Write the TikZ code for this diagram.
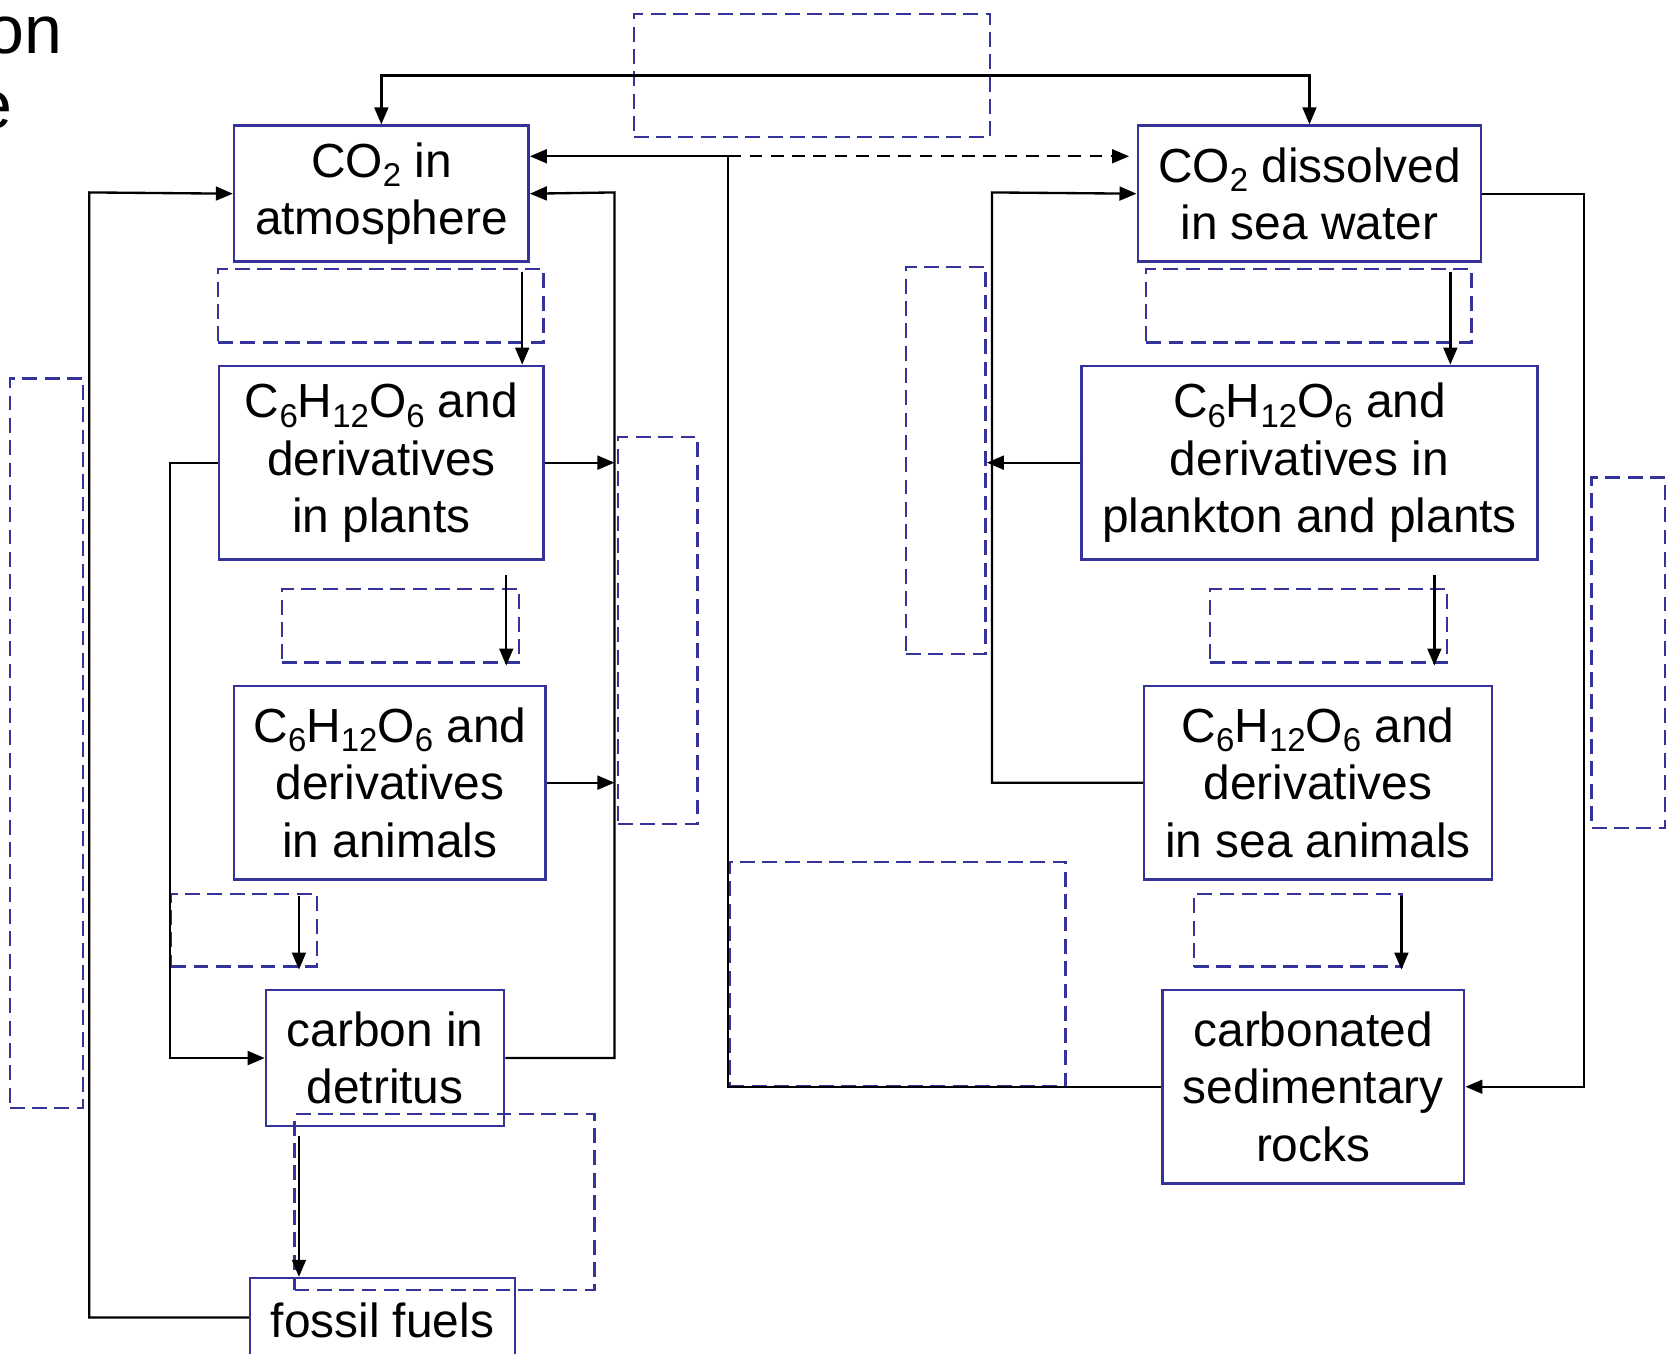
\documentclass[tikz,border=0pt]{standalone}
\usepackage{fontspec}
\setmainfont{Liberation Sans}
\usetikzlibrary{arrows.meta,calc}
\definecolor{boxblue}{RGB}{51,51,153}
\newcommand\sbs[1]{\raisebox{-9pt}{\fontsize{31pt}{31pt}\selectfont #1}}
\begin{document}
\begin{tikzpicture}[x=1pt,y=-1pt,
  box/.style={draw=boxblue,line width=2.4pt,inner sep=0pt,align=center,anchor=north west,
    font=\fontsize{45pt}{54pt}\selectfont,execute at begin node={\rule{0pt}{39pt}}},
  ph/.style={draw=boxblue,dash pattern=on 14pt off 7pt,line width=2.2pt,inner sep=0pt,anchor=north west},
  conn/.style={line width=2.2pt,-{Triangle[length=16pt,width=13pt]}},
  both/.style={line width=2.2pt,{Triangle[length=16pt,width=13pt]}-{Triangle[length=16pt,width=13pt]}},
  ttl/.style={anchor=base east,inner sep=0pt,font=\fontsize{64pt}{70pt}\selectfont}]
\useasboundingbox (0,0) rectangle (1568,1273);

% title fragments
\node[ttl] (t1) at (59,50) {on};
\node[ttl] (t2) at (12,121) {e};

% placeholders (empty dashed boxes)
\node[ph,minimum width=335pt,minimum height=116pt] (pa) at (595,12) {};
\node[ph,minimum width=306pt,minimum height=69pt] (pb) at (204,252) {};
\node[ph,minimum width=223pt,minimum height=69pt] (pc) at (264,553) {};
\node[ph,minimum width=137pt,minimum height=68pt] (pd) at (160,840) {};
\node[ph,minimum width=282pt,minimum height=165pt] (pe) at (276,1047) {};
\node[ph,minimum width=69pt,minimum height=686pt] (pf) at (8,355) {};
\node[ph,minimum width=75pt,minimum height=364pt] (pg) at (580,410) {};
\node[ph,minimum width=75pt,minimum height=364pt] (ph) at (851,250) {};
\node[ph,minimum width=306pt,minimum height=69pt] (pi) at (1077,252) {};
\node[ph,minimum width=223pt,minimum height=69pt] (pj) at (1137,553) {};
\node[ph,minimum width=195pt,minimum height=68pt] (pk) at (1122,840) {};
\node[ph,minimum width=69pt,minimum height=330pt] (pl) at (1496,448) {};
\node[ph,minimum width=316pt,minimum height=211pt] (pm) at (685,810) {};

% boxes
\node[box,minimum width=277pt,minimum height=128pt] (atm) at (219,117) {CO\sbs{2} in\\atmosphere};
\node[box,minimum width=305pt,minimum height=182pt] (plants) at (205,343) {C\sbs{6}H\sbs{12}O\sbs{6} and\\derivatives\\in plants};
\node[box,minimum width=293pt,minimum height=182pt] (animals) at (219,644) {C\sbs{6}H\sbs{12}O\sbs{6} and\\derivatives\\in animals};
\node[box,minimum width=224pt,minimum height=128pt] (detritus) at (249,930) {carbon in\\detritus};
\node[box,minimum width=249pt,minimum height=74pt] (fossil) at (234,1201) {fossil fuels};
\node[box,minimum width=323pt,minimum height=128pt] (sea) at (1069,117) {CO\sbs{2} dissolved\\in sea water};
\node[box,minimum width=429pt,minimum height=182pt] (plankton) at (1016,343) {C\sbs{6}H\sbs{12}O\sbs{6} and\\derivatives in\\plankton and plants};
\node[box,minimum width=327pt,minimum height=182pt] (seaanimals) at (1075,644) {C\sbs{6}H\sbs{12}O\sbs{6} and\\derivatives\\in sea animals};
\node[box,minimum width=284pt,minimum height=182pt] (rocks) at (1092,930) {carbonated\\sedimentary\\rocks};

% helper coordinates
\coordinate (topy) at (0,71);
\coordinate (j1) at (685,147);
\coordinate (xr) at (578,181);
\coordinate (xl) at (84,181);
\coordinate (xl2) at (160,700);
\coordinate (xs) at (933,181);
\coordinate (xe) at (1490,600);

% connectors
\draw[both] (atm.north) -- (atm.north |- topy) -| (sea.north);
\draw[conn] (rocks.west) -| (j1) -- (atm.east |- j1);
\draw[conn,dash pattern=on 12pt off 8pt,shorten >=7pt] (j1) -- (sea.west |- j1);
\draw[conn] (detritus.east) -| (xr) -- (atm.east);
\draw[conn] (plants.east) -- (plants.east -| xr);
\draw[conn] (animals.east) -- (animals.east -| xr);
\draw[conn] (fossil.west) -| (xl) -- (atm.west);
\draw[conn,shorten <=8pt] ([xshift=132.5pt]atm.south) -- ([xshift=132.5pt]plants.north);
\draw[conn,shorten <=13pt,shorten >=18pt] ([xshift=117.5pt]plants.south) -- ([xshift=109.5pt]animals.north);
\draw[conn] (plants.west) -| (xl2) |- (detritus.west);
\draw[conn,shorten <=14pt,shorten >=18pt] ([xshift=-85.5pt]animals.south) -- ([xshift=-81pt]detritus.north);
\draw[conn,shorten <=8pt] ([xshift=-81pt]detritus.south) -- ([xshift=-78.5pt]fossil.north);
\draw[conn,shorten <=8pt] ([xshift=132.5pt]sea.south) -- ([xshift=132.5pt]plankton.north);
\draw[conn] (plankton.west) -- (plankton.west -| ph.east);
\draw[conn] (seaanimals.west) -| (xs) -- (sea.west);
\draw[conn,shorten <=13pt,shorten >=18pt] ([xshift=117.5pt]plankton.south) -- ([xshift=109.5pt]seaanimals.north);
\draw[conn,shorten <=14pt,shorten >=18pt] ([xshift=78.5pt]seaanimals.south) -- ([xshift=83pt]rocks.north);
\draw[conn] (sea.east) -| (xe) |- (rocks.east);
\end{tikzpicture}
\end{document}
